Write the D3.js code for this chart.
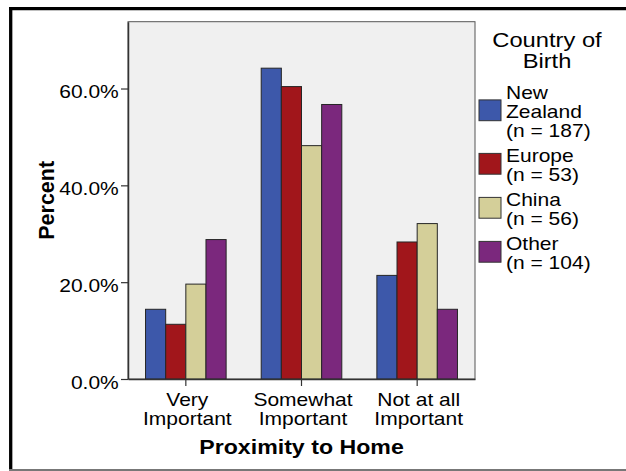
<!DOCTYPE html>
<html>
<head>
<meta charset="utf-8">
<script src="https://cdn.jsdelivr.net/npm/d3@7"></script>
<style>
  html, body { margin: 0; padding: 0; background: #fff; }
  svg { display: block; }
  text { font-family: "Liberation Sans", Arial, sans-serif; fill: #000; }
</style>
</head>
<body>
<script>
// ---- data ----
const categories = ["Very Important", "Somewhat Important", "Not at all Important"];
const seriesNames = ["New Zealand", "Europe", "China", "Other"];
const seriesN = [187, 53, 56, 104];
const newZealand = [14.4, 64.2, 21.4];
const europe = [11.3, 60.4, 28.3];
const china = [19.6, 48.2, 32.1];
const other = [28.8, 56.7, 14.4];
const yTicks = [0, 20, 40, 60];
const yMax = 73.8;
const xTitle = "Proximity to Home";
const yTitle = "Percent";
const legendTitle = ["Country of", "Birth"];
const seriesValues = [newZealand, europe, china, other];
const colors = ["#3d58aa", "#a1161b", "#d4cf99", "#7b287d"];

// ---- layout ----
const W = 626, H = 471;
const SX = 1.13; // horizontal text stretch
const plot = { left: 128, right: 475, top: 21.7, bottom: 379 };

const svg = d3.select("body").append("svg").attr("width", W).attr("height", H);

function txt(parent, x, y, str, opt) {
  opt = opt || {};
  return parent.append("text")
    .attr("transform", `translate(${x},${y}) scale(${opt.sx == null ? SX : opt.sx},1)`)
    .attr("text-anchor", opt.anchor || "start")
    .style("font-size", (opt.size || 18.6) + "px")
    .style("font-weight", opt.weight || "normal")
    .text(str);
}

// outer frame
svg.append("line").attr("x1", 9).attr("x2", W).attr("y1", 8.7).attr("y2", 8.7)
  .attr("stroke", "#000").attr("stroke-width", 3.3);
svg.append("line").attr("x1", 10.7).attr("x2", 10.7).attr("y1", 7).attr("y2", H)
  .attr("stroke", "#000").attr("stroke-width", 3.3);
svg.append("line").attr("x1", 9).attr("x2", W).attr("y1", 470).attr("y2", 470)
  .attr("stroke", "#777").attr("stroke-width", 2);

// scales
const x0 = d3.scaleBand().domain(categories).range([plot.left, plot.right]).padding(0);
const groupW = 80.6;
const x1 = d3.scaleBand().domain(seriesNames)
  .range([(x0.bandwidth() - groupW) / 2, (x0.bandwidth() + groupW) / 2]);
const y = d3.scaleLinear().domain([0, yMax]).range([plot.bottom, plot.top]);
const color = d3.scaleOrdinal().domain(seriesNames).range(colors);

// plot background
svg.append("rect")
  .attr("x", plot.left).attr("y", plot.top)
  .attr("width", plot.right - plot.left).attr("height", plot.bottom - plot.top)
  .attr("fill", "#f0f0f0").attr("stroke", "#555").attr("stroke-width", 1);

// bars
const rows = [];
categories.forEach((c, i) => {
  seriesNames.forEach((s, j) => rows.push({ cat: c, series: s, value: seriesValues[j][i] }));
});
svg.append("g").selectAll("rect").data(rows).join("rect")
  .attr("x", d => x0(d.cat) + x1(d.series))
  .attr("y", d => y(d.value))
  .attr("width", x1.bandwidth())
  .attr("height", d => y(0) - y(d.value))
  .attr("fill", d => color(d.series))
  .attr("stroke", "#262626").attr("stroke-width", 1);

// y axis
const yAxis = svg.append("g").attr("transform", `translate(${plot.left},0)`)
  .call(d3.axisLeft(y).tickValues(yTicks).tickSize(7).tickSizeOuter(0)
    .tickFormat(d => d3.format(".1f")(d) + "%"));
yAxis.select(".domain").attr("stroke", "#333").attr("stroke-width", 1.5);
yAxis.selectAll(".tick line").attr("stroke", "#333").attr("stroke-width", 1.2);
yAxis.selectAll(".tick text")
  .attr("x", null).attr("dy", null)
  .attr("transform", `translate(-9.2,9) scale(${SX},1)`)
  .attr("text-anchor", "end")
  .attr("fill", "#000")
  .style("font-size", "18.6px")
  .style("font-family", "Liberation Sans, Arial, sans-serif");

// x axis
const xAxis = svg.append("g").attr("transform", `translate(0,${plot.bottom})`)
  .call(d3.axisBottom(x0).tickSize(7).tickSizeOuter(0).tickFormat(""));
xAxis.select(".domain").attr("stroke", "#333").attr("stroke-width", 1.5);
xAxis.selectAll(".tick line").attr("stroke", "#333").attr("stroke-width", 1.2);

categories.forEach(c => {
  const k = c.lastIndexOf(" ");
  const lines = [c.slice(0, k), c.slice(k + 1)];
  const cx = x0(c) + x0.bandwidth() / 2 + 1.5;
  lines.forEach((ln, i) => txt(svg, cx, plot.bottom + 26.5 + i * 19, ln, { anchor: "middle" }));
});

// axis titles
txt(svg, (plot.left + plot.right) / 2, 454, xTitle, { anchor: "middle", weight: "bold", size: 20.5 });
svg.append("text")
  .attr("transform", `translate(53.5,${(plot.top + plot.bottom) / 2}) rotate(-90)`)
  .attr("text-anchor", "middle")
  .style("font-size", "21.5px").style("font-weight", "bold")
  .text(yTitle);

// legend
legendTitle.forEach((t, i) => txt(svg, 547, 46.7 + i * 21.6, t, { anchor: "middle", size: 21 }));

const measure = svg.append("text").style("font-size", "18.6px").attr("opacity", 0);
function wrap(str, maxW) {
  const words = str.split(" ");
  const out = [];
  let cur = "";
  words.forEach(w => {
    const test = cur ? cur + " " + w : w;
    measure.text(test);
    if (cur && measure.node().getComputedTextLength() * SX > maxW) { out.push(cur); cur = w; }
    else cur = test;
  });
  if (cur) out.push(cur);
  return out;
}

let baseY = 99.3;
const lineH = 19, itemGap = 25;
seriesNames.forEach((s, i) => {
  const lines = wrap(s, 100).concat([`(n = ${seriesN[i]})`]);
  const baselines = lines.map((_, k) => baseY + k * lineH);
  lines.forEach((ln, k) => txt(svg, 506, baselines[k], ln));
  const cy = d3.mean(baselines) - 8;
  svg.append("rect")
    .attr("x", 479).attr("y", cy - 10.4).attr("width", 22).attr("height", 20.8)
    .attr("fill", colors[i]).attr("stroke", "#333").attr("stroke-width", 1);
  baseY = baselines[baselines.length - 1] + itemGap;
});
measure.remove();
</script>
</body>
</html>
